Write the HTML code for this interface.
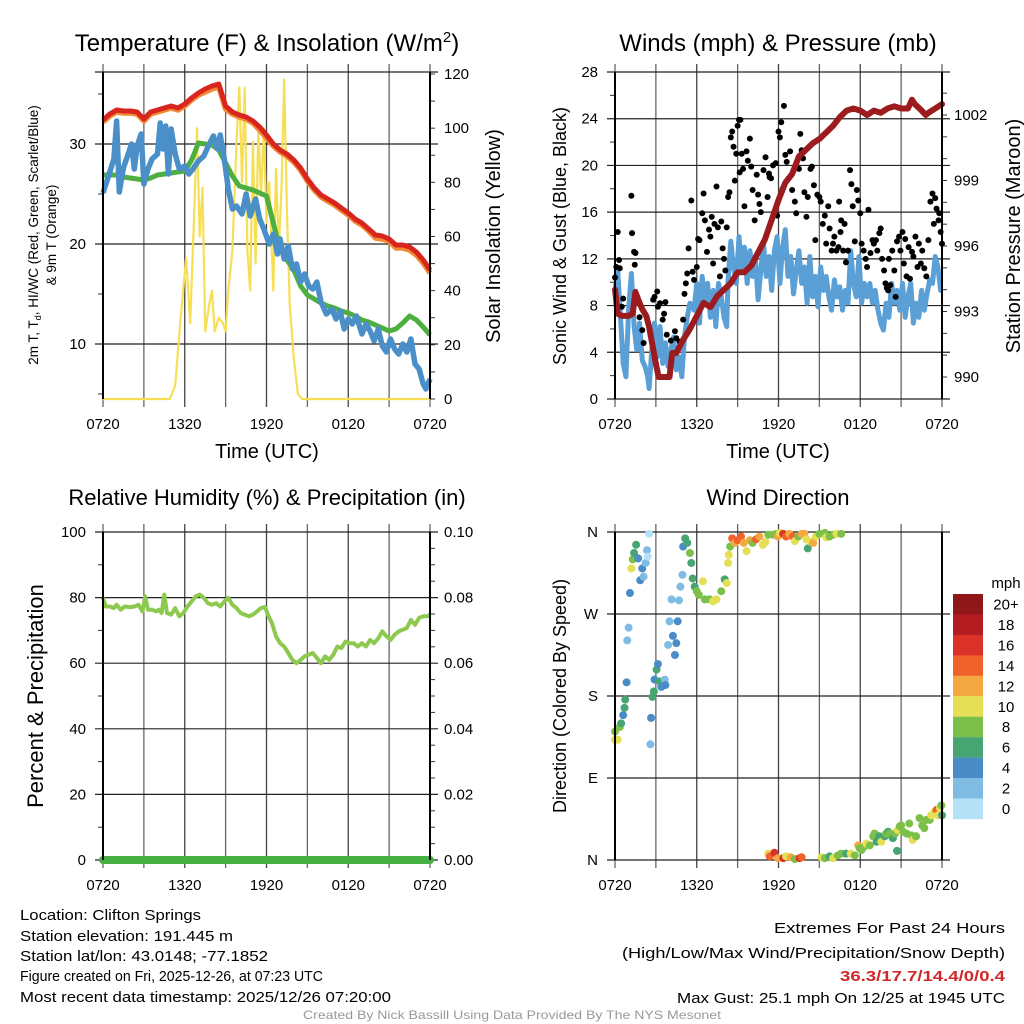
<!DOCTYPE html>
<html><head><meta charset="utf-8"><style>
html,body{margin:0;padding:0;background:#fff;}
svg{display:block;font-family:"Liberation Sans",sans-serif;}
</style></head><body>
<svg id="chart" width="1024" height="1024" viewBox="0 0 1024 1024">
<rect x="0" y="0" width="1024" height="1024" fill="#fff"/>
<g id="grid"></g>
<g id="series"></g>
<g id="frame"></g>
<g id="labels" font-size="15" fill="#000"></g>
<text x="267" y="51" font-size="24" text-anchor="middle">Temperature (F) &amp; Insolation (W/m<tspan font-size="15" dy="-9">2</tspan><tspan dy="9">)</tspan></text>
<text x="778" y="51" font-size="24" text-anchor="middle">Winds (mph) &amp; Pressure (mb)</text>
<text x="267" y="505" font-size="22" text-anchor="middle">Relative Humidity (%) &amp; Precipitation (in)</text>
<text x="778" y="505" font-size="22" text-anchor="middle">Wind Direction</text>
<text x="267" y="458" font-size="20" text-anchor="middle">Time (UTC)</text>
<text x="778" y="458" font-size="20" text-anchor="middle">Time (UTC)</text>
<text transform="translate(38,235) rotate(-90)" font-size="13.5" text-anchor="middle">2m T, T<tspan font-size="9" dy="3">d</tspan><tspan dy="-3">, HI/WC (Red, Green, Scarlet/Blue)</tspan></text>
<text transform="translate(56,235) rotate(-90)" font-size="13.5" text-anchor="middle">&amp; 9m T (Orange)</text>
<text transform="translate(500,236) rotate(-90)" font-size="20" text-anchor="middle">Solar Insolation (Yellow)</text>
<text transform="translate(566,236) rotate(-90)" font-size="18" text-anchor="middle">Sonic Wind &amp; Gust (Blue, Black)</text>
<text transform="translate(1020,236) rotate(-90)" font-size="20" text-anchor="middle">Station Pressure (Maroon)</text>
<text transform="translate(43,696) rotate(-90)" font-size="22" text-anchor="middle">Percent &amp; Precipitation</text>
<text transform="translate(566,696) rotate(-90)" font-size="18" text-anchor="middle">Direction (Colored By Speed)</text>
<g id="legend"><text x="1006" y="588" font-size="15" text-anchor="middle">mph</text></g>
<g font-size="15">
<text x="20" y="920" textLength="181" lengthAdjust="spacingAndGlyphs">Location: Clifton Springs</text>
<text x="20" y="941" textLength="213" lengthAdjust="spacingAndGlyphs">Station elevation: 191.445 m</text>
<text x="20" y="961" textLength="248" lengthAdjust="spacingAndGlyphs">Station lat/lon: 43.0148; -77.1852</text>
<text x="20" y="981" textLength="303" lengthAdjust="spacingAndGlyphs">Figure created on Fri, 2025-12-26, at 07:23 UTC</text>
<text x="20" y="1002" textLength="371" lengthAdjust="spacingAndGlyphs">Most recent data timestamp: 2025/12/26 07:20:00</text>
<text x="1005" y="933" text-anchor="end" textLength="231" lengthAdjust="spacingAndGlyphs">Extremes For Past 24 Hours</text>
<text x="1005" y="958" text-anchor="end" textLength="383" lengthAdjust="spacingAndGlyphs">(High/Low/Max Wind/Precipitation/Snow Depth)</text>
<text x="1005" y="981" text-anchor="end" fill="#d02828" font-weight="bold" textLength="165" lengthAdjust="spacingAndGlyphs">36.3/17.7/14.4/0/0.4</text>
<text x="1005" y="1003" text-anchor="end" textLength="328" lengthAdjust="spacingAndGlyphs">Max Gust: 25.1 mph On 12/25 at 1945 UTC</text>
<text x="512" y="1019" text-anchor="middle" font-size="12" fill="#999" textLength="418" lengthAdjust="spacingAndGlyphs">Created By Nick Bassill Using Data Provided By The NYS Mesonet</text>
</g>
</svg>
<script>
// ---- data (hours since 0720 UTC) ----
const tempHours = [0,0.5,1,1.5,2,2.5,3,3.5,4,4.5,5,5.5,6,6.5,7,7.5,8,8.5,9,9.5,10,10.5,11,11.5,12,12.5,13,13.5,14,14.5,15,15.5,16,16.5,17,17.5,18,18.5,19,19.5,20,20.5,21,21.5,22,22.5,23,23.5,24];
const tempRed = [32.4,33.0,33.4,33.3,33.3,33.2,32.5,33.2,33.4,33.6,33.8,33.6,34.0,34.6,35.1,35.5,35.8,36.0,33.8,33.2,32.9,32.7,32.3,31.7,30.9,30.0,29.4,29.0,28.4,27.6,26.5,25.6,24.9,24.5,24.1,23.6,23.1,22.5,22.1,21.5,20.9,20.8,20.5,19.9,19.9,19.7,19.2,18.4,17.4];
const tempOrange = [32.2,32.8,33.2,33.1,33.1,33.0,32.3,33.0,33.2,33.4,33.6,33.4,33.8,34.4,34.9,35.2,35.5,35.7,33.5,33.0,32.7,32.5,32.1,31.4,30.6,29.8,29.2,28.8,28.2,27.4,26.3,25.4,24.7,24.3,23.9,23.4,22.9,22.3,21.9,21.3,20.6,20.5,20.3,19.6,19.6,19.4,18.9,18.1,17.1];
const dewGreen = [26.9,26.9,26.9,26.7,26.6,26.5,26.4,26.6,26.9,27.0,27.1,27.2,27.3,28.4,30.1,30.0,29.9,29.4,28.1,26.8,25.8,25.6,25.4,25.1,24.8,22.1,19.4,18.4,17.4,15.8,14.9,14.5,14.1,13.8,13.6,13.3,13.1,12.8,12.4,12.2,11.9,11.6,11.3,11.5,12.1,12.8,12.4,11.7,10.9];
const chillHours = [0,0.4,0.8,1.0,1.2,1.5,1.8,2.1,2.3,2.5,2.8,3.0,3.3,3.6,4.0,4.2,4.4,4.6,4.8,5.0,5.3,5.6,6.0,6.3,6.6,7.0,7.4,7.8,8.1,8.4,8.6,8.9,9.2,9.5,9.8,10.2,10.5,10.8,11.2,11.5,11.8,12.2,12.5,12.8,13.0,13.3,13.6,13.9,14.2,14.5,14.8,15.1,15.4,15.7,16.0,16.4,16.8,17.1,17.4,17.7,18.0,18.3,18.6,19.0,19.3,19.6,19.9,20.2,20.5,20.8,21.1,21.4,21.7,22.0,22.3,22.6,22.9,23.2,23.5,23.7,24];
const chillBlue = [25.1,26.8,28.5,32.3,25.2,27.6,28.8,30.0,27.5,29.8,31.0,26.0,27.5,28.5,29.0,32.1,29.5,31.8,27.0,31.5,29.0,27.5,27.8,27.0,27.5,28.3,28.8,30.0,30.8,29.5,30.9,28.5,25.5,23.5,23.8,23.0,25.0,22.8,24.5,22.5,21.5,20.0,21.0,19.0,20.5,18.5,19.8,17.5,18.0,16.2,17.0,15.8,15.5,16.2,14.2,13.0,13.5,12.5,13.3,11.5,12.5,12.0,12.8,11.0,12.0,11.3,10.3,11.5,9.8,9.2,10.5,9.5,9.0,10.0,9.2,10.5,8.0,7.5,6.0,5.5,6.5];
const solarHours = [0,4.9,5.3,5.7,6.1,6.4,6.7,6.9,7.1,7.3,7.5,7.8,8.0,8.2,8.5,8.8,9.0,9.2,9.5,9.8,10.0,10.2,10.4,10.6,10.8,11.0,11.2,11.4,11.6,11.8,12.0,12.2,12.5,12.7,12.9,13.1,13.3,13.5,13.7,14.0,14.3,14.6,24];
const solarYellow = [0,0,5,30,52,28,70,100,60,78,25,35,40,25,30,28,25,40,55,95,115,80,115,55,40,95,50,100,75,100,65,80,40,85,55,78,118,70,35,15,2,0,0];
const windHours = [0,0.2,0.4,0.6,0.8,1.0,1.2,1.4,1.6,1.8,2.0,2.2,2.4,2.5,2.7,2.9,3.1,3.3,3.5,3.7,3.9,4.1,4.3,4.5,4.7,4.9,5.1,5.3,5.5,5.8,6.0,6.2,6.4,6.6,6.8,7.0,7.2,7.4,7.6,7.8,8.0,8.2,8.3,8.5,8.7,8.9,9.1,9.3,9.5,9.7,9.9,10.1,10.3,10.5,10.7,10.9,11.1,11.3,11.5,11.7,11.9,12.1,12.3,12.5,12.7,12.9,13.1,13.3,13.5,13.7,13.9,14.1,14.3,14.5,14.7,14.9,15.1,15.3,15.5,15.7,15.9,16.1,16.3,16.5,16.7,16.9,17.1,17.3,17.5,17.7,17.9,18.1,18.3,18.5,18.7,18.9,19.1,19.3,19.5,19.7,19.9,20.1,20.3,20.5,20.7,20.9,21.1,21.3,21.5,21.7,21.9,22.1,22.3,22.5,22.7,22.9,23.1,23.3,23.5,23.7,23.9,24];
const windBlue = [9.3,11.0,7.0,3.05,1.9,7.6,10.75,6.2,4.2,6.5,3.3,2.8,1.9,0.9,4.2,6.5,3.6,6.2,3.05,4.8,2.8,4.2,5.3,2.5,3.6,1.9,5.3,7.0,8.2,7.6,9.9,6.5,10.5,8.2,9.9,7.0,9.3,6.2,9.9,8.75,7.0,6.2,10.2,13.5,11.3,9.9,13.9,11.3,13.0,9.9,12.7,10.5,12.2,8.5,11.0,13.3,10.5,12.2,9.3,12.7,13.9,9.9,13.0,14.5,10.5,12.2,9.0,11.0,12.7,9.9,11.3,8.2,12.2,8.75,10.5,7.9,11.3,9.3,10.5,8.75,7.6,10.2,8.75,9.6,7.6,9.3,8.2,12.7,9.9,8.75,12.2,8.2,9.9,8.75,9.9,8.2,9.3,7.6,6.5,5.9,8.2,7.0,9.9,8.2,9.3,7.6,9.9,7.0,8.75,9.9,6.5,8.2,7.0,9.3,7.6,9.0,10.2,9.9,12.2,11.3,9.3,9.3];
const pressHours = [0,0.2,0.5,1,1.3,1.5,1.8,2,2.3,2.5,2.8,3,3.2,3.5,4,4.2,4.5,5,5.5,6,6.5,7,7.5,8,8.5,9,9.5,10,10.5,11,11.5,12,12.5,13,13.5,14,14.5,15,15.5,16,16.5,17,17.5,18,18.5,19,19.5,20,20.5,21,21.5,21.8,22,22.5,22.8,23,23.5,24];
const pressMaroon = [994.0,992.9,992.8,992.8,992.9,993.9,993.4,993.1,992.8,992.3,991.3,990.6,990.0,990.0,990.0,991.1,991.1,991.7,992.2,992.8,993.4,993.2,993.7,994.0,994.3,994.8,994.8,995.1,995.7,996.3,997.2,998.1,998.9,999.3,1000.1,1000.4,1000.7,1000.9,1001.2,1001.5,1001.9,1002.2,1002.3,1002.2,1002.0,1002.2,1002.1,1002.3,1002.4,1002.3,1002.3,1002.7,1002.5,1002.2,1002.0,1002.1,1002.3,1002.5];
const gustHours = [0,0.1,0.2,0.3,0.35,0.5,0.6,1.2,1.25,1.4,1.45,1.5,1.8,2.0,2.1,2.8,2.9,3.1,3.15,3.3,3.5,3.6,3.7,3.8,4.1,4.4,4.5,4.75,5.0,5.1,5.2,5.3,5.4,5.6,5.7,5.8,6.0,6.1,6.2,6.4,6.5,6.6,6.75,6.9,7.0,7.1,7.2,7.3,7.45,7.55,7.7,7.8,7.9,8.0,8.1,8.2,8.3,8.4,8.5,8.6,8.7,8.8,8.9,9.0,9.1,9.15,9.2,9.3,9.4,9.5,9.65,9.75,9.9,10.0,10.1,10.25,10.4,10.5,10.6,10.7,10.9,11.05,11.2,11.3,11.35,11.45,11.6,11.8,11.9,12.0,12.1,12.2,12.3,12.4,12.5,12.6,12.75,12.85,13.0,13.1,13.2,13.3,13.5,13.6,13.7,13.8,13.9,14.05,14.15,14.35,14.45,14.6,14.7,14.85,15.0,15.1,15.25,15.4,15.5,15.65,15.75,15.9,16.0,16.1,16.25,16.4,16.45,16.55,16.6,16.75,16.85,16.95,17.1,17.25,17.35,17.45,17.6,17.75,17.85,18.0,18.1,18.25,18.4,18.5,18.6,18.75,18.9,19.0,19.15,19.25,19.4,19.5,19.6,19.75,19.85,19.95,20.05,20.1,20.2,20.35,20.5,20.6,20.7,20.85,20.95,21.1,21.2,21.3,21.4,21.55,21.65,21.8,21.9,22.05,22.2,22.3,22.45,22.55,22.7,22.85,23.0,23.15,23.3,23.4,23.5,23.6,23.75,23.8,23.9,24.0];
const gustBlack = [10.4,11.3,14.3,11.9,11.2,7.9,8.6,17.4,14.2,12.6,11.5,12.5,7.0,5.9,4.8,8.5,8.75,9.2,7.9,8.2,6.8,7.3,8.3,5.5,5.0,5.8,5.2,4.9,6.8,9.0,9.9,10.75,12.9,17.0,10.9,10.2,11.3,13.7,13.6,15.9,17.6,15.3,12.6,14.5,13.9,15.6,11.6,15.0,18.2,14.7,10.5,15.2,12.9,12.0,11.0,14.7,17.3,17.7,22.4,22.9,21.6,18.7,21.0,23.4,23.9,19.4,23.9,21.0,19.7,16.5,21.2,20.4,22.3,19.9,17.9,15.3,19.2,17.5,16.7,16.0,19.6,20.7,17.3,19.3,19.0,18.9,20.0,20.2,15.7,22.9,22.4,23.7,18.0,25.1,20.9,20.3,18.9,21.2,17.9,19.6,16.9,15.9,19.7,22.7,21.3,20.6,17.7,15.6,17.3,19.7,19.9,18.3,13.6,17.5,17.3,16.9,15.0,15.7,13.3,16.5,14.6,12.7,13.3,13.9,12.7,13.0,16.9,14.3,15.3,12.7,15.0,11.7,12.7,19.6,18.4,16.5,13.5,17.9,17.0,15.9,13.3,12.7,12.0,11.3,16.2,12.5,13.6,13.3,13.6,12.7,14.2,14.6,12.0,11.0,9.9,9.5,9.3,12.0,9.75,12.7,11.0,8.75,13.5,13.9,12.7,14.3,11.6,13.7,10.5,13.0,10.3,12.6,12.2,13.9,11.3,13.3,11.6,12.7,11.2,10.5,13.6,16.9,17.6,15.0,17.2,16.3,15.3,15.9,14.3,13.3];
const rhHours = [0,0.2,0.5,0.8,1.0,1.3,1.6,2.0,2.3,2.6,2.9,3.1,3.3,3.6,3.9,4.1,4.3,4.5,4.7,5.0,5.3,5.6,5.9,6.2,6.5,6.8,7.1,7.4,7.7,8.0,8.3,8.6,8.9,9.2,9.5,9.8,10.1,10.4,10.7,11.0,11.3,11.6,11.9,12.1,12.4,12.7,13.0,13.3,13.6,13.9,14.2,14.5,14.8,15.1,15.4,15.7,16.0,16.3,16.6,16.9,17.2,17.5,17.8,18.1,18.4,18.7,19.0,19.3,19.6,19.9,20.2,20.5,20.8,21.1,21.4,21.7,22.0,22.3,22.6,22.9,23.2,23.5,23.8,24];
const rhGreen = [79.9,77.3,77.3,76.8,77.8,76.3,77.3,77.1,77.3,77.8,75.8,80.4,76.3,76.3,75.8,76.3,75.3,80.9,75.3,74.8,76.8,74.3,75.3,77.3,78.8,80.4,80.9,79.9,78.3,77.8,78.3,77.3,78.8,79.9,77.8,76.8,75.3,74.8,74.3,74.8,75.8,76.8,77.1,74.8,72.2,68.2,66.1,65.1,63.1,61.0,60.0,61.0,62.1,62.6,63.1,61.6,60.0,62.1,61.0,62.6,65.1,64.6,66.6,66.1,66.1,65.1,66.1,65.1,67.1,66.1,67.6,69.7,68.2,67.1,68.7,69.7,70.2,70.7,73.2,71.7,73.8,74.3,74.3,74.8];
const precipHours = [0,24];
const precipValues = [0,0];
const dirHours = [0,0,0.2,0.35,0.45,0.6,0.7,0.75,0.85,0.9,1.0,1.1,1.2,1.3,1.4,1.55,1.7,1.85,2.0,2.1,2.25,2.35,2.4,2.5,2.6,2.65,2.75,2.85,2.9,3.05,3.15,3.3,3.4,3.65,3.7,3.9,4.0,4.15,4.25,4.4,4.5,4.6,4.7,4.8,4.95,5.0,5.15,5.3,5.5,5.6,5.7,5.85,6.0,6.15,6.45,6.6,6.95,7.2,7.45,7.8,8.05,8.2,8.3,8.35,8.45,8.6,8.8,9.0,9.25,9.45,9.65,9.9,10.1,10.35,10.6,10.85,11.05,11.25,11.6,11.85,11.95,12.1,12.35,12.55,12.8,13.05,13.2,13.45,13.7,13.9,14.05,14.15,14.4,14.55,14.75,15.0,15.4,15.5,15.75,16.0,16.25,16.6,
11.25,11.35,11.7,11.95,12.35,12.55,12.9,13.2,13.55,13.7,15.15,15.4,15.75,16.0,16.35,16.6,16.95,17.3,17.6,17.85,17.95,18.1,18.3,18.45,18.7,18.95,19.05,19.2,19.4,19.55,19.8,19.9,20.05,20.15,20.3,20.4,20.55,20.7,20.75,20.9,21.0,21.15,21.4,21.6,21.75,21.85,22.1,22.35,22.55,22.7,22.85,23.1,23.2,23.45,23.6,23.7,23.85,23.95,24];
const dirDegrees = [132,141,132,146,150,159,167,176,195,241,255,293,320,330,337,346,331,307,320,311,326,340,333,358,127,156,179,185,198,209,215,196,190,198,192,236,262,286,246,225,238,262,285,300,313,344,353,348,337,326,309,300,295,291,306,286,286,284,286,295,308,304,326,335,344,353,348,351,355,348,339,351,348,352,355,346,349,357,357,358,355,359,358,355,358,355,350,355,358,358,352,342,349,348,355,358,359,354,355,357,358,358,
7,4,8,2,2,4,3,1,2,3,3,2,4,2,5,7,7,7,5,16,13,11,15,18,16,26,29,20,26,20,26,29,31,29,26,24,29,10,33,37,38,31,29,40,27,22,26,46,38,35,44,44,49,53,55,49,57,60,49];
const dirSpeeds = [10,8,10,8,6,4,6,6,4,2,2,4,10,8,6,6,4,4,4,2,2,2,0,0,2,4,6,6,4,6,4,6,4,2,4,2,2,2,4,4,4,4,2,2,2,4,6,6,8,6,6,6,8,8,10,8,8,10,10,8,6,10,10,10,8,14,12,14,14,12,10,12,8,14,12,10,10,8,8,8,12,10,16,14,12,14,10,8,12,12,10,6,10,12,10,8,8,10,8,8,10,8,
10,14,16,12,16,10,12,8,16,14,10,8,6,10,8,8,6,10,8,12,8,8,8,10,8,8,8,6,6,10,6,8,6,8,8,6,8,6,10,8,8,8,8,8,8,10,8,8,8,8,8,8,10,10,14,10,10,8,6];
const legendLabels = ['20+','18','16','14','12','10','8','6','4','2','0'];
const speedColors = ['#b5e2f7','#80bbe4','#4a8dc6','#47a573','#7cc04a','#e5df55','#f4a842','#ef6229','#da3128','#b41c22','#8f1619'];
const xTickLabels = ['0720','1320','1920','0120','0720'];
const xTickHours = [0,6,12,18,24];
const tempTicks = [10,20,30];
const solarTicks = [0,20,40,60,80,100,120];
const windTicks = [0,4,8,12,16,20,24,28];
const pressTicks = [990,993,996,999,1002];
const rhTicks = [0,20,40,60,80,100];
const precipTickLabels = ['0.00','0.02','0.04','0.06','0.08','0.10'];
const dirTicks = [0,90,180,270,360];
const dirTickLabels = ['N','E','S','W','N'];

const NS='http://www.w3.org/2000/svg';
function mk(tag, attrs, parent){const e=document.createElementNS(NS,tag);for(const k in attrs)e.setAttribute(k,attrs[k]);parent.appendChild(e);return e;}
const G=document.getElementById('grid'),S=document.getElementById('series'),F=document.getElementById('frame'),L=document.getElementById('labels');

const xL = h => 103 + h*(327/24);
const xR = h => 615 + h*(327/24);
const yTemp = v => 144 + (30-v)*10;
const ySolar = v => 399 - v*(325/120);
const yWind = v => 399 - v*(327/28);
const yPress = v => 115 + (1002-v)*(262/12);
const yRH = v => 860 - v*3.28;
const yDir = d => 860 - d*(328/360);

function pathFrom(xs, ys, fx, fy){return xs.map((h,i)=>(i?'L':'M')+fx(h).toFixed(1)+' '+fy(ys[i]).toFixed(1)).join(' ');}

function panelGrid(x0,x1,yTop,yBot,hLines,name){
  for(let h=0;h<=24;h+=3){
    const ln=mk('line',{x1:x0+h*(327/24),x2:x0+h*(327/24),y1:yTop-8,y2:yBot+8,stroke:(h%6==0&&h>0&&h<24)?'#444':'#666','stroke-width':1.3},G);
    
    
  }
  hLines.forEach(y=>{
    const ln=mk('line',{x1:x0-8,x2:x1+8,y1:y,y2:y,stroke:'#222','stroke-width':1.2},G);
    
    
  });
  [x0,x1].forEach(x=>{
    const ln=mk('line',{x1:x,x2:x,y1:yTop,y2:yBot,stroke:'#000','stroke-width':2},F);
    
    
  });
  xTickHours.forEach((h,i)=>{
    const t=mk('text',{x:x0+h*(327/24),y:yBot+30,'text-anchor':'middle'},L);
    t.textContent=xTickLabels[i];
    
    
  });
}
panelGrid(103,430,72,399,[72].concat(tempTicks.map(yTemp)),'temp');
panelGrid(615,942,72,399,windTicks.map(yWind),'wind');
panelGrid(103,430,532,860,rhTicks.map(yRH),'rh');
panelGrid(615,942,532,860,dirTicks.map(yDir),'dir');

function minor(x,ys,dir,name){ys.forEach(y=>{const ln=mk('line',{x1:x,x2:x+dir*5,y1:y,y2:y,stroke:'#333','stroke-width':1},G);});}
minor(103,[5,15,25,35].map(yTemp),-1,'temp-minor-tick');
minor(430,[10,30,50,70,90,110].map(ySolar),1,'solar-minor-tick');
minor(615,[2,6,10,14,18,22,26].map(yWind),-1,'wind-minor-tick');
minor(942,[991,992,994,995,997,998,1000,1001,1003].map(yPress),1,'pressure-minor-tick');
minor(103,[10,30,50,70,90].map(yRH),-1,'rh-minor-tick');
minor(430,[5,10,15,25,30,35,45,50,55,65,70,75,85,90,95].map(yRH),1,'precip-minor-tick');
minor(430,solarTicks.map(ySolar),1,'solar-major-tick');
minor(942,pressTicks.map(yPress),1,'pressure-major-tick');

function ticks(vals,labels,x,fy,anchor,name){vals.forEach((v,i)=>{const t=mk('text',{x:x,y:fy(v)+5,'text-anchor':anchor},L);t.textContent=labels?labels[i]:String(v);});}
ticks(tempTicks,null,86,yTemp,'end','temp-tick-label');
ticks(solarTicks,null,444,ySolar,'start','solar-tick-label');
ticks(windTicks,null,598,yWind,'end','wind-tick-label');
ticks(pressTicks,null,954,yPress,'start','pressure-tick-label');
ticks(rhTicks,null,86,yRH,'end','rh-tick-label');
ticks(rhTicks,precipTickLabels,444,yRH,'start','precip-tick-label');
ticks(dirTicks,dirTickLabels,598,yDir,'end','direction-tick-label');

let p;
p=mk('path',{d:pathFrom(solarHours,solarYellow,xL,ySolar),fill:'none',stroke:'#f7df55','stroke-width':2.2,'stroke-linejoin':'round'},S);


p=mk('path',{d:pathFrom(tempHours,dewGreen,xL,yTemp),fill:'none',stroke:'#4caf3f','stroke-width':5,'stroke-linejoin':'round'},S);


p=mk('path',{d:pathFrom(chillHours,chillBlue,xL,yTemp),fill:'none',stroke:'#4a8fc8','stroke-width':5.5,'stroke-linejoin':'round'},S);


p=mk('path',{d:pathFrom(tempHours,tempOrange,xL,yTemp),fill:'none',stroke:'#f18a33','stroke-width':5.5,'stroke-linejoin':'round'},S);


p=mk('path',{d:pathFrom(tempHours,tempRed,xL,yTemp),fill:'none',stroke:'#d8261f','stroke-width':5,'stroke-linejoin':'round'},S);



p=mk('path',{d:pathFrom(windHours,windBlue,xR,yWind),fill:'none',stroke:'#5a9fd6','stroke-width':5,'stroke-linejoin':'round'},S);


gustHours.forEach((h,i)=>{
  const c=mk('circle',{cx:xR(h),cy:yWind(gustBlack[i]),r:3,fill:'#000'},S);
  
  
});
p=mk('path',{d:pathFrom(pressHours,pressMaroon,xR,yPress),fill:'none',stroke:'#9b1b1e','stroke-width':6,'stroke-linejoin':'round','stroke-linecap':'round'},S);



p=mk('path',{d:pathFrom(rhHours,rhGreen,xL,yRH),fill:'none',stroke:'#8dc94e','stroke-width':4,'stroke-linejoin':'round'},S);


p=mk('path',{d:pathFrom(precipHours,precipValues,xL,yRH),fill:'none',stroke:'#47b043','stroke-width':8,'stroke-linecap':'round'},S);



dirHours.forEach((h,i)=>{
  const idx=Math.min(10,Math.floor(dirSpeeds[i]/2));
  const c=mk('circle',{cx:xR(h),cy:yDir(dirDegrees[i]),r:4,fill:speedColors[idx]},S);
  
  
});

const LG=document.getElementById('legend');
legendLabels.forEach((lab,i)=>{
  const y=594+i*20.45;
  const r=mk('rect',{x:953,y:y,width:30,height:20.6,fill:speedColors[10-i]},LG);
  
  
  const t=mk('text',{x:1006,y:y+15.5,'font-size':15,'text-anchor':'middle'},LG);
  t.textContent=lab;
  
  
});
</script>
</body></html>
